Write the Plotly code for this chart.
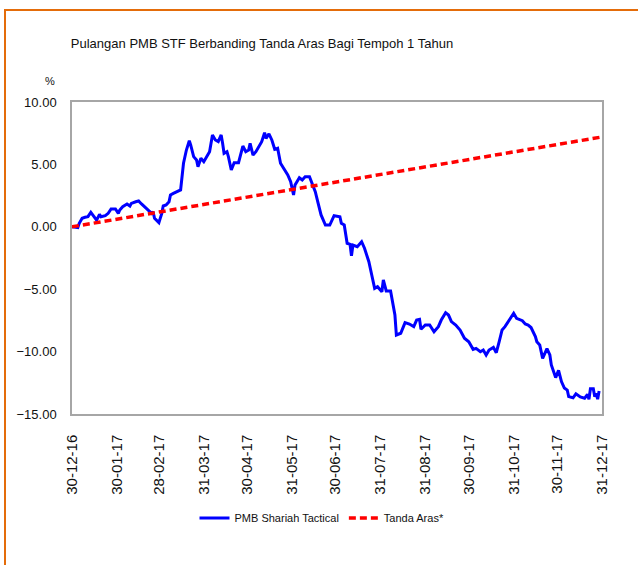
import plotly.graph_objects as go

# ---- data ----
fund_dates = [
    "2016-12-30", "2017-01-03", "2017-01-04", "2017-01-06", "2017-01-08", "2017-01-10", "2017-01-12",
    "2017-01-14", "2017-01-16", "2017-01-18", "2017-01-19", "2017-01-22", "2017-01-24", "2017-01-26",
    "2017-01-29", "2017-01-31", "2017-02-01", "2017-02-03", "2017-02-06", "2017-02-08", "2017-02-09",
    "2017-02-12", "2017-02-14", "2017-02-16", "2017-02-18", "2017-02-21", "2017-02-23", "2017-02-24",
    "2017-02-25", "2017-02-28", "2017-03-01", "2017-03-02", "2017-03-03", "2017-03-05", "2017-03-07",
    "2017-03-08", "2017-03-10", "2017-03-12", "2017-03-13", "2017-03-15", "2017-03-17", "2017-03-19",
    "2017-03-21", "2017-03-22", "2017-03-24", "2017-03-26", "2017-03-27", "2017-03-29", "2017-03-31",
    "2017-04-02", "2017-04-04", "2017-04-06", "2017-04-08", "2017-04-10", "2017-04-12", "2017-04-13",
    "2017-04-14", "2017-04-16", "2017-04-17", "2017-04-19", "2017-04-21", "2017-04-24", "2017-04-26",
    "2017-04-27", "2017-04-29", "2017-05-01", "2017-05-02", "2017-05-04", "2017-05-06", "2017-05-09",
    "2017-05-10", "2017-05-12", "2017-05-13", "2017-05-15", "2017-05-17", "2017-05-19", "2017-05-21",
    "2017-05-23", "2017-05-26", "2017-05-28", "2017-05-30", "2017-05-31", "2017-06-01", "2017-06-02",
    "2017-06-04", "2017-06-05", "2017-06-07", "2017-06-09", "2017-06-12", "2017-06-14", "2017-06-16",
    "2017-06-18", "2017-06-20", "2017-06-23", "2017-06-26", "2017-06-29", "2017-07-03", "2017-07-04",
    "2017-07-06", "2017-07-08", "2017-07-10", "2017-07-11", "2017-07-12", "2017-07-15", "2017-07-17",
    "2017-07-18", "2017-07-20", "2017-07-23", "2017-07-25", "2017-07-27", "2017-07-29", "2017-07-31",
    "2017-08-01", "2017-08-02", "2017-08-04", "2017-08-07", "2017-08-08", "2017-08-10", "2017-08-11",
    "2017-08-14", "2017-08-17", "2017-08-20", "2017-08-23", "2017-08-25", "2017-08-27", "2017-08-28",
    "2017-08-31", "2017-09-03", "2017-09-06", "2017-09-09", "2017-09-11", "2017-09-14", "2017-09-16",
    "2017-09-18", "2017-09-21", "2017-09-24", "2017-09-27", "2017-09-30", "2017-10-03", "2017-10-05",
    "2017-10-08", "2017-10-10", "2017-10-12", "2017-10-14", "2017-10-17", "2017-10-19", "2017-10-21",
    "2017-10-23", "2017-10-25", "2017-10-28", "2017-10-31", "2017-11-02", "2017-11-06", "2017-11-08",
    "2017-11-10", "2017-11-12", "2017-11-15", "2017-11-16", "2017-11-18", "2017-11-20", "2017-11-23",
    "2017-11-25", "2017-11-26", "2017-11-29", "2017-12-01", "2017-12-03", "2017-12-05", "2017-12-07",
    "2017-12-08", "2017-12-11", "2017-12-13", "2017-12-16", "2017-12-19", "2017-12-21", "2017-12-22",
    "2017-12-23", "2017-12-25", "2017-12-26", "2017-12-27", "2017-12-28", "2017-12-29",
]
fund_values = [
    0.00, -0.07, 0.28, 0.68, 0.76, 0.81, 1.16,
    0.81, 0.54, 1.00, 0.81, 0.89, 1.08, 1.43,
    1.43, 1.08, 1.35, 1.61, 1.83, 1.67, 1.88,
    2.01, 2.07, 1.83, 1.61, 1.35, 1.08, 1.21,
    0.68, 0.33, 0.68, 1.08, 1.67, 1.75, 2.01,
    2.55, 2.68, 2.81, 2.87, 2.95, 5.09, 6.15,
    6.90, 6.55, 5.62, 5.35, 4.82, 5.49, 5.22,
    5.62, 6.02, 7.36, 6.96, 6.82, 7.36, 6.69,
    5.89, 6.02, 5.62, 4.55, 5.14, 5.14, 6.15,
    6.47, 6.02, 6.15, 6.69, 5.75, 6.02, 6.55,
    6.82, 7.54, 7.09, 7.44, 6.96, 6.21, 6.29,
    5.09, 4.55, 4.15, 3.61, 3.08, 2.55, 3.35,
    3.67, 3.93, 3.75, 4.01, 4.01, 3.35, 2.81,
    1.88, 0.95, 0.14, 0.14, 0.89, 0.81, 0.28,
    0.14, -1.32, -1.40, -2.32, -1.46, -1.59, -1.32,
    -1.19, -1.72, -2.80, -3.86, -4.93, -4.80, -5.06,
    -5.20, -4.26, -5.14, -5.14, -5.73, -7.07, -8.67,
    -8.53, -7.68, -7.79, -8.00, -7.47, -7.41, -8.21,
    -7.87, -7.87, -8.41, -8.00, -7.47, -6.88, -7.07,
    -7.60, -7.87, -8.27, -8.93, -9.21, -9.82, -9.74,
    -10.01, -9.87, -10.27, -9.87, -9.66, -10.09, -9.21,
    -8.27, -8.00, -7.47, -6.93, -7.33, -7.52, -7.79,
    -7.87, -8.07, -8.79, -9.21, -9.47, -10.54, -9.77,
    -10.27, -11.07, -12.08, -11.51, -12.40, -12.92, -13.08,
    -13.61, -13.70, -13.38, -13.63, -13.74, -13.44, -13.82,
    -12.98, -12.98, -13.61, -13.34, -13.82, -13.16,
]

bench_dates = [
    "2016-12-30", "2017-01-30", "2017-02-28", "2017-03-31", "2017-04-30", "2017-05-31", "2017-06-30",
    "2017-07-31", "2017-08-31", "2017-09-30", "2017-10-31", "2017-11-30", "2017-12-31",
]
bench_values = [0.00, 0.61, 1.18, 1.79, 2.38, 3.00, 3.59, 4.20, 4.81, 5.40, 6.01, 6.60, 7.20]

tick_dates = bench_dates
tick_labels = [
    "30-12-16", "30-01-17", "28-02-17", "31-03-17", "30-04-17", "31-05-17", "30-06-17",
    "31-07-17", "31-08-17", "30-09-17", "31-10-17", "30-11-17", "31-12-17",
]
y_ticks = [10, 5, 0, -5, -10, -15]

series_names = ["PMB Shariah Tactical", "Tanda Aras*"]
title_text = "Pulangan PMB STF Berbanding Tanda Aras Bagi Tempoh 1 Tahun"

# ---- styling ----
REG = "Liberation Sans, Arial, sans-serif"
W, H = 638, 565
L, R, T, B = 72, 36, 102, 151
PW, PH = W - L - R, H - T - B
YMIN, YMAX = -15, 10
XR = ["2016-12-30", "2017-12-31"]

def px_x(p):
    return (p - L) / PW

def px_y(p):
    return (H - B - p) / PH

fig = go.Figure()
fig.add_trace(go.Scatter(
    x=fund_dates, y=fund_values, mode="lines", name=series_names[0],
    line=dict(color="#0000FF", width=3),
))
fig.add_trace(go.Scatter(
    x=bench_dates, y=bench_values, mode="lines", name=series_names[1],
    line=dict(color="#FF0000", width=3.5, dash="7px,4px"),
))

fig.update_layout(
    width=W, height=H,
    margin=dict(l=L, r=R, t=T, b=B, pad=0),
    paper_bgcolor="white", plot_bgcolor="white",
    title=dict(text=title_text, x=262 / W, xref="container", xanchor="center",
               y=1 - 43 / H, yref="container", yanchor="middle",
               font=dict(family=REG, size=13, color="#111111")),
    showlegend=True,
    legend=dict(orientation="h", x=px_x(322), xanchor="center", y=px_y(518), yanchor="middle",
                font=dict(family=REG, size=11, color="#111111"),
                bgcolor="rgba(0,0,0,0)", itemwidth=30, tracegroupgap=0),
    xaxis=dict(type="date", range=XR, tickmode="array", tickvals=tick_dates, ticktext=tick_labels,
               tickangle=-90, ticks="", ticklabelstandoff=13, showgrid=False, zeroline=False,
               showline=True, mirror=True, linecolor="#a6a6a6", linewidth=1.5,
               tickfont=dict(family=REG, size=15, color="#111111")),
    xaxis2=dict(type="date", range=XR, overlaying="x", anchor="free",
                position=(0 - YMIN) / (YMAX - YMIN), side="bottom",
                tickmode="array", tickvals=tick_dates, showticklabels=False,
                ticks="outside", ticklen=6, tickwidth=1.5, tickcolor="#d0d0d0",
                showline=True, linecolor="#d4d4d4", linewidth=1.5, showgrid=False,
                zeroline=False, layer="below traces"),
    yaxis=dict(range=[YMIN, YMAX], tickmode="array", tickvals=y_ticks, tickformat=".2f",
               ticks="", ticklabelstandoff=11, showgrid=False, zeroline=False,
               showline=True, mirror=True, linecolor="#a6a6a6", linewidth=1.5,
               tickfont=dict(family=REG, size=13, color="#111111")),
)

fig.add_annotation(text="%", xref="paper", yref="paper", x=px_x(50), y=px_y(81),
                   showarrow=False, xanchor="center", yanchor="middle",
                   font=dict(family=REG, size=11, color="#111111"))

# outer orange frame (extends beyond the visible window on the right and bottom)
fig.add_shape(type="rect", xref="paper", yref="paper",
              x0=px_x(5), x1=px_x(660), y0=px_y(590), y1=px_y(10),
              line=dict(color="#E46C0A", width=2), fillcolor="rgba(0,0,0,0)", layer="below")

fig.write_html("out.html", config={"displayModeBar": False},
               post_script="document.body.style.margin='0';")
